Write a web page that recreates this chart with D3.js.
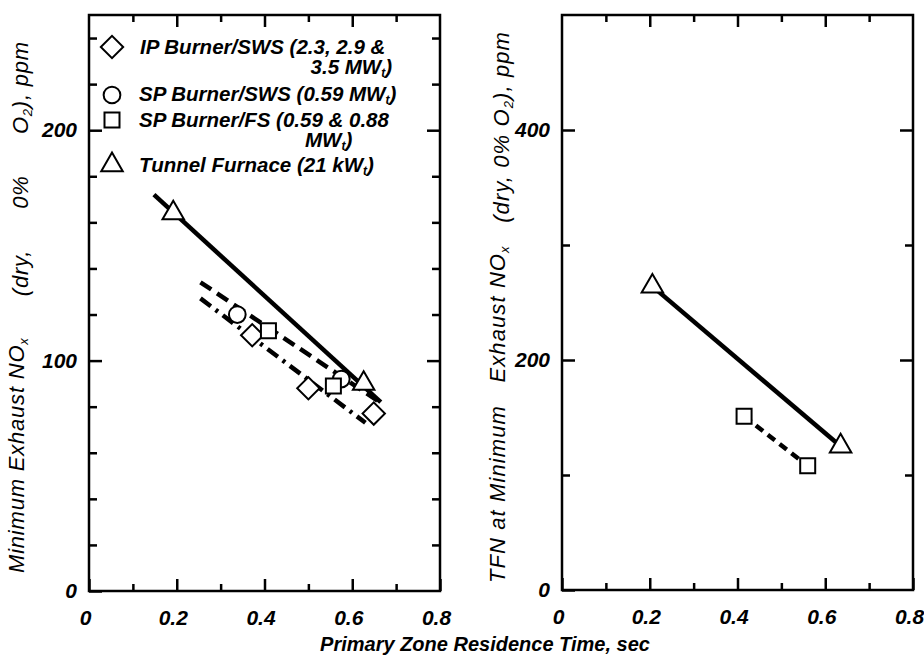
<!DOCTYPE html>
<html>
<head>
<meta charset="utf-8">
<script src="https://cdn.jsdelivr.net/npm/d3@7"></script>
<style>
  body { margin: 0; background: #fff; }
  svg { display: block; }
  text { font-family: "Liberation Sans", Arial, sans-serif; font-style: italic; fill: #000; }
</style>
</head>
<body>
<svg id="chart" width="924" height="656"></svg>
<script>
// axis ticks
const xMajor = [0, 0.2, 0.4, 0.6, 0.8];
const xMinor = [0.1, 0.3, 0.5, 0.7];
const leftYMajor = [0, 100, 200];
const leftYMinor = [20, 40, 60, 80, 120, 140, 160, 180, 220, 240];
const rightYMajor = [0, 200, 400];
const rightYMinor = [100, 300];

// left panel: minimum exhaust NOx (ppm) vs residence time (sec)
const ipTime = [0.372, 0.500, 0.649];
const ipNox = [111, 88, 77];
const spSwsTime = [0.338, 0.575];
const spSwsNox = [120, 92];
const spFsTime = [0.409, 0.557];
const spFsNox = [113, 89];
const tunnelTime = [0.192, 0.626];
const tunnelNox = [164, 90];

// left panel fitted lines
const tunnelFitTime = [0.148, 0.665];
const tunnelFitNox = [172, 82];
const swsFitTime = [0.254, 0.670];
const swsFitNox = [134, 81];
const ipFitTime = [0.254, 0.630];
const ipFitNox = [127, 73];

// right panel: TFN at minimum exhaust NOx
const tfnTunnelTime = [0.206, 0.635];
const tfnTunnelVal = [264, 125];
const tfnFsTime = [0.415, 0.560];
const tfnFsVal = [151, 108];

const svg = d3.select('#chart');

const xL = d3.scaleLinear().domain([0, 0.8]).range([89, 440]);
const yL = d3.scaleLinear().domain([0, 250]).range([591, 15]);
const xR = d3.scaleLinear().domain([0, 0.8]).range([562, 913]);
const yR = d3.scaleLinear().domain([0, 500]).range([590, 15]);

const fmtX = d => d === 0 ? '0' : d3.format('.1f')(d);

function drawFrame(x, y, yMajor, yMinor) {
  const g = svg.append('g');
  const [x0, x1] = x.range();
  const [y0, y1] = y.range();

  // bottom: labelled major ticks, then minor
  g.append('g').attr('class', 'xlab').attr('transform', `translate(0,${y0})`)
    .call(d3.axisBottom(x).tickValues(xMajor).tickSize(-12).tickPadding(19).tickFormat(fmtX));
  g.append('g').attr('transform', `translate(0,${y0})`)
    .call(d3.axisBottom(x).tickValues(xMinor).tickSize(-7).tickFormat(''));
  // top
  g.append('g').attr('transform', `translate(0,${y1})`)
    .call(d3.axisTop(x).tickValues(xMajor.slice(1, -1)).tickSize(-12).tickFormat(''));
  g.append('g').attr('transform', `translate(0,${y1})`)
    .call(d3.axisTop(x).tickValues(xMinor).tickSize(-7).tickFormat(''));
  // left
  g.append('g').attr('transform', `translate(${x0},0)`)
    .call(d3.axisLeft(y).tickValues(yMajor).tickSize(-13).tickPadding(12));
  g.append('g').attr('transform', `translate(${x0},0)`)
    .call(d3.axisLeft(y).tickValues(yMinor).tickSize(-8).tickFormat(''));
  // right
  g.append('g').attr('transform', `translate(${x1},0)`)
    .call(d3.axisRight(y).tickValues(yMajor.slice(1)).tickSize(-13).tickFormat(''));
  g.append('g').attr('transform', `translate(${x1},0)`)
    .call(d3.axisRight(y).tickValues(yMinor).tickSize(-8).tickFormat(''));

  g.selectAll('.domain').remove();
  g.selectAll('.tick line').attr('stroke', '#000').attr('stroke-width', 2.5);
  g.selectAll('.tick text')
    .attr('font-family', '"Liberation Sans", Arial, sans-serif')
    .attr('font-size', 21).attr('font-weight', 'bold').attr('font-style', 'italic');
  g.selectAll('.xlab .tick text').attr('dx', -4);

  g.append('rect')
    .attr('x', x0).attr('y', y1)
    .attr('width', x1 - x0).attr('height', y0 - y1)
    .attr('fill', 'none').attr('stroke', '#000').attr('stroke-width', 2.5);
}

drawFrame(xL, yL, leftYMajor, leftYMinor);
drawFrame(xR, yR, rightYMajor, rightYMinor);

const symbols = {
  diamond: d3.symbol().type(d3.symbolSquare).size(250),
  circle: d3.symbol().type(d3.symbolCircle).size(220),
  square: d3.symbol().type(d3.symbolSquare).size(225),
  triangle: d3.symbol().type(d3.symbolTriangle).size(200)
};

function fitLine(x, y, xs, ys, dash, width) {
  const pts = d3.zip(xs, ys);
  svg.append('path')
    .attr('d', d3.line().x(d => x(d[0])).y(d => y(d[1]))(pts))
    .attr('fill', 'none').attr('stroke', '#000')
    .attr('stroke-width', width)
    .attr('stroke-dasharray', dash);
}

function markers(x, y, xs, ys, kind) {
  svg.append('g').selectAll('path')
    .data(d3.zip(xs, ys))
    .join('path')
    .attr('d', symbols[kind]())
    .attr('transform', d => `translate(${x(d[0])},${y(d[1])})` + (kind === 'diamond' ? ' rotate(45)' : ''))
    .attr('fill', '#fff').attr('stroke', '#000').attr('stroke-width', 2);
}

// left panel lines
fitLine(xL, yL, tunnelFitTime, tunnelFitNox, null, 4.5);
fitLine(xL, yL, swsFitTime, swsFitNox, '13,7', 4.5);
fitLine(xL, yL, ipFitTime, ipFitNox, '13,6,3,6', 4.5);

markers(xL, yL, ipTime, ipNox, 'diamond');
markers(xL, yL, spSwsTime, spSwsNox, 'circle');
markers(xL, yL, spFsTime, spFsNox, 'square');
markers(xL, yL, tunnelTime, tunnelNox, 'triangle');

// right panel lines
fitLine(xR, yR, tfnTunnelTime, tfnTunnelVal, null, 4.5);
fitLine(xR, yR, tfnFsTime, tfnFsVal, '9,6', 4.5);
markers(xR, yR, tfnFsTime, tfnFsVal, 'square');
markers(xR, yR, tfnTunnelTime, tfnTunnelVal, 'triangle');

// legend
const legend = svg.append('g').attr('font-size', 20.5).attr('font-weight', 'bold');
const legendRows = [
  { kind: 'diamond', sy: 47, lines: [['IP Burner/SWS (2.3, 2.9 &', 140, 54, 'start'], ['3.5 MW|t|)', 392, 74, 'end']] },
  { kind: 'circle', sy: 95, lines: [['SP Burner/SWS (0.59 MW|t|)', 139, 101, 'start']] },
  { kind: 'square', sy: 120, lines: [['SP Burner/FS (0.59 & 0.88', 139, 127, 'start'], ['MW|t|)', 305, 147, 'start']] },
  { kind: 'triangle', sy: 165, lines: [['Tunnel Furnace (21 kW|t|)', 139, 172, 'start']] }
];
legendRows.forEach(r => {
  legend.append('path')
    .attr('d', symbols[r.kind]())
    .attr('transform', `translate(112,${r.sy})` + (r.kind === 'diamond' ? ' rotate(45)' : ''))
    .attr('fill', '#fff').attr('stroke', '#000').attr('stroke-width', 2);
  r.lines.forEach(([s, x, y, anchor]) => {
    const t = legend.append('text').attr('x', x).attr('y', y).attr('text-anchor', anchor);
    s.split('|').forEach((part, i) => {
      const ts = t.append('tspan').text(part);
      if (i === 1) ts.attr('font-size', 12).attr('dy', 3);
      if (i === 2) ts.attr('dy', -3);
    });
  });
});

// axis titles
svg.append('text')
  .attr('x', 485).attr('y', 651)
  .attr('text-anchor', 'middle')
  .attr('font-size', 20).attr('font-weight', 'bold')
  .text('Primary Zone Residence Time, sec');

// parts: [text, kind]; kind 'sub' = subscript, 'back' = back to baseline, 'gap' = widened word gap
function yTitle(cx, cy, parts, len, size, spacing) {
  const t = svg.append('text')
    .attr('transform', `translate(${cx},${cy}) rotate(-90)`)
    .attr('text-anchor', 'middle')
    .attr('font-size', size)
    .attr('letter-spacing', spacing);
  const gaps = [];
  parts.forEach(([s, kind]) => {
    const ts = t.append('tspan').text(s);
    if (kind === 'sub') ts.attr('font-size', 13).attr('dy', 4);
    if (kind === 'back') ts.attr('dy', -4);
    if (kind === 'gap') gaps.push(ts);
  });
  const extra = (len - t.node().getComputedTextLength()) / gaps.length;
  if (extra > 0) gaps.forEach(ts => ts.attr('dx', extra));
}

yTitle(24, 307, [['Minimum Exhaust NO'], ['x', 'sub'], [' (dry,', 'gap'], [' 0%', 'gap'], [' O', 'gap'], ['2', 'sub'], ['), ppm', 'back']], 532, 22, 0.8);
yTitle(505, 307, [['TFN at Minimum'], [' Exhaust NO', 'gap'], ['x', 'sub'], [' (dry, 0% O', 'gap'], ['2', 'sub'], ['), ppm', 'back']], 552, 22, 1.1);
</script>
</body>
</html>
